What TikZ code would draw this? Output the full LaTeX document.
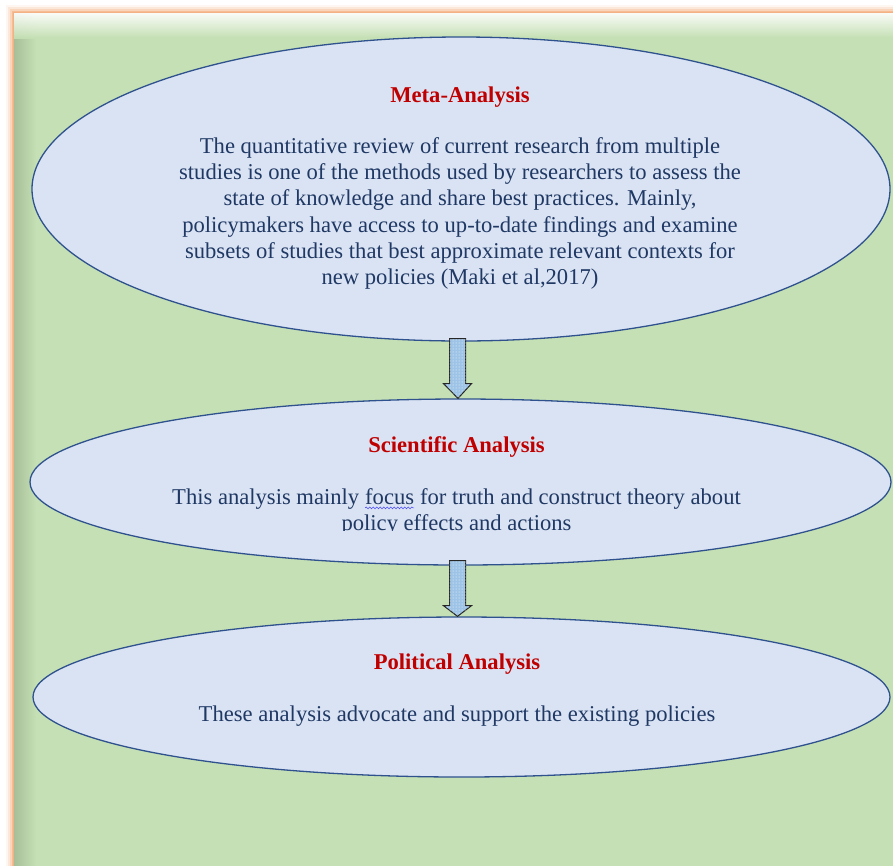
\documentclass[tikz,border=0pt]{standalone}
\usepackage{fontspec}
\setmainfont{Liberation Serif}
\usetikzlibrary{calc,patterns,decorations.pathmorphing,shapes.geometric}
\definecolor{bggreen}{HTML}{C5E0B4}
\definecolor{glow}{HTML}{F4B183}
\definecolor{ellfill}{HTML}{DAE3F3}
\definecolor{ellline}{HTML}{2F528F}
\definecolor{bodytext}{HTML}{1F3864}
\definecolor{titlered}{HTML}{C00000}
\definecolor{arrowfill}{HTML}{9DC3E6}
\definecolor{arrowline}{HTML}{262626}
\newcommand\squigword[1]{\tikz[baseline=(w.base)]{\node[inner sep=0pt,outer sep=0pt] (w) {#1};
  \draw[blue!70, line width=0.6pt, decorate, decoration={snake, amplitude=0.9pt, segment length=3.5pt}]
  ([yshift=-3.5pt]w.base west) -- ([yshift=-3.5pt]w.base east);}}
\begin{document}
\begin{tikzpicture}[x=1pt,y=-1pt,
  bubble/.style={ellipse, draw=ellline, line width=1.3pt, fill=ellfill, inner sep=0pt},
  titletext/.style={text=titlered, font=\fontsize{22.6}{26}\selectfont\bfseries},
  bodytxt/.style={text=bodytext, align=center, font=\fontsize{22.6}{26.3}\selectfont},
  blockarrow/.style={draw=arrowline, line width=1pt, fill=arrowfill,
     postaction={pattern=dots, pattern color=white}}
]
\useasboundingbox (0,0) rectangle (893,865);
% glow frame
\foreach \w/\o in {16/0.12,12/0.2,8/0.35,5/0.7,3/1} {
  \draw[glow, line width=\w pt, opacity=\o] (14,13) rectangle (920,890);
}
\fill[bggreen] (14,13) rectangle (920,890);
\shade[left color=bggreen!85!black, right color=bggreen] (14,13) rectangle (36,865);
\shade[top color=white, bottom color=bggreen, opacity=0.9] (14,13) rectangle (893,38);

% ellipses
\node[bubble, minimum width=858pt, minimum height=304pt] (e1) at (461,189) {};
\node[bubble, minimum width=861pt, minimum height=166pt] (e2) at (460.5,482) {};
\node[bubble, minimum width=857pt, minimum height=160pt] (e3) at (461.5,697) {};

% texts
\node[titletext] (t1) at (460,97) {Meta-Analysis};
\node[bodytxt] (b1) at (460,213.5) {The quantitative review of current research from multiple\\
studies is one of the methods used by researchers to assess the\\
state of knowledge and share best practices. Mainly,\\
policymakers have access to up-to-date findings and examine\\
subsets of studies that best approximate relevant contexts for\\
new policies (Maki et al,2017)};

\node[titletext] (t2) at (456.5,447) {Scientific Analysis};
\begin{scope}
\clip (100,470) rectangle (800,530);
\node[bodytxt] (b2) at (456.5,512) {This analysis mainly \squigword{focus} for truth and construct theory about\\
policy effects and actions};
\end{scope}

\node[titletext] (t3) at (457,664) {Political Analysis};
\node[bodytxt] (b3) at (457,716) {These analysis advocate and support the existing policies};

% block arrows
\draw[blockarrow] ($(e1.south)+(-11.5,-3)$) -- ($(e1.south)+(4.5,-3)$) -- ($(e1.south)+(4.5,42)$)
  -- ($(e1.south)+(10.5,42)$) -- ($(e2.north)+(-2.5,0)$) -- ($(e1.south)+(-17.5,42)$)
  -- ($(e1.south)+(-11.5,42)$) -- cycle;
\draw[blockarrow] ($(e2.south)+(-11,-5)$) -- ($(e2.south)+(5,-5)$) -- ($(e2.south)+(5,40)$)
  -- ($(e2.south)+(11,40)$) -- ($(e3.north)+(-4,0)$) -- ($(e2.south)+(-17,40)$)
  -- ($(e2.south)+(-11,40)$) -- cycle;
\end{tikzpicture}
\end{document}
